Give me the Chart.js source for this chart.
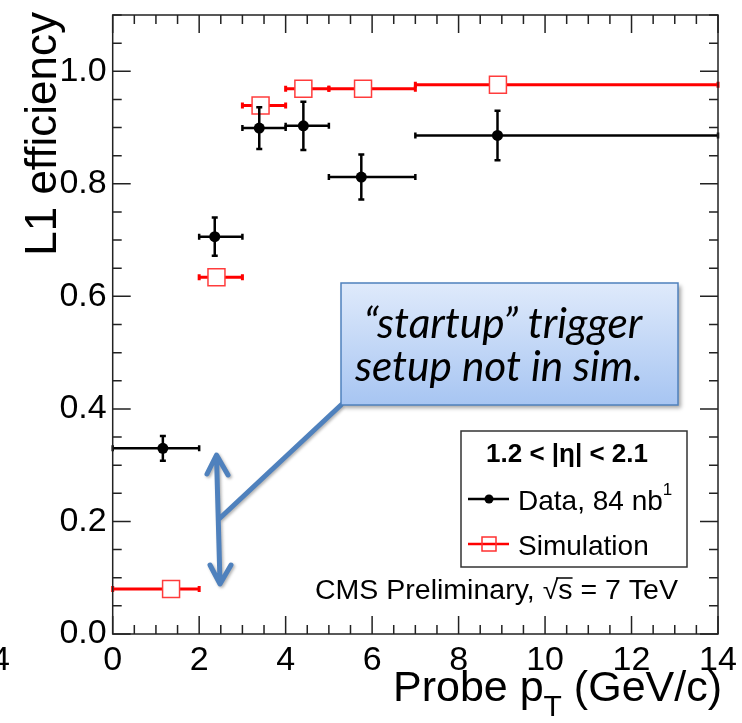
<!DOCTYPE html>
<html>
<head>
<meta charset="utf-8">
<script src="https://cdn.jsdelivr.net/npm/chart.js@4.4.1/dist/chart.umd.min.js"></script>
<style>
  html, body { margin: 0; padding: 0; background: #fff; }
  #wrap { width: 742px; height: 723px; }
</style>
</head>
<body>
<div id="wrap"><canvas id="effChart" width="742" height="723"></canvas></div>
<script>
// bins in probe pT (GeV/c)
var binLow  = [0, 2, 3, 4, 5, 7];
var binHigh = [2, 3, 4, 5, 7, 14];

// data points (black)
var dataX   = [1.16, 2.36, 3.39, 4.41, 5.75, 8.90];
var dataY   = [0.330, 0.706, 0.899, 0.903, 0.812, 0.886];
var dataErr = [0.022, 0.034, 0.037, 0.043, 0.040, 0.044];

// simulation points (red)
var simX = [1.35, 2.40, 3.42, 4.41, 5.79, 8.91];
var simY = [0.080, 0.634, 0.939, 0.969, 0.969, 0.976];

// axis ticks
var xTickVals   = [0, 2, 4, 6, 8, 10, 12, 14];
var xTickLabels = ["0", "2", "4", "6", "8", "10", "12", "14"];
var yTickVals   = [0, 0.2, 0.4, 0.6, 0.8, 1.0];
var yTickLabels = ["0.0", "0.2", "0.4", "0.6", "0.8", "1.0"];

Chart.defaults.font.family = "Liberation Sans";

function drawCapLine(ctx, x1, y1, x2, y2, cap, vertical) {
  ctx.beginPath();
  ctx.moveTo(x1, y1);
  ctx.lineTo(x2, y2);
  ctx.stroke();
  ctx.beginPath();
  if (vertical) {
    ctx.moveTo(x1 - cap, y1); ctx.lineTo(x1 + cap, y1);
    ctx.moveTo(x2 - cap, y2); ctx.lineTo(x2 + cap, y2);
  } else {
    ctx.moveTo(x1, y1 - cap); ctx.lineTo(x1, y1 + cap);
    ctx.moveTo(x2, y2 - cap); ctx.lineTo(x2, y2 + cap);
  }
  ctx.stroke();
}

// text squeezed/stretched to a given width
function fitText(ctx, txt, x, y, width) {
  var w = ctx.measureText(txt).width;
  ctx.save();
  ctx.translate(x, y);
  ctx.scale(width / w, 1);
  ctx.fillText(txt, 0, 0);
  ctx.restore();
  return width;
}

// error bars: red ones under everything, black ones after the red markers
var errorBars = {
  id: "errorBars",
  beforeDatasetsDraw: function(chart) {
    var ctx = chart.ctx, xs = chart.scales.x, ys = chart.scales.y;
    ctx.save();
    ctx.strokeStyle = "#ff0000";
    ctx.lineWidth = 3;
    for (var i = 0; i < simX.length; i++) {
      var py = ys.getPixelForValue(simY[i]);
      drawCapLine(ctx, xs.getPixelForValue(binLow[i]), py, xs.getPixelForValue(binHigh[i]), py, 3, false);
    }
    ctx.restore();
  },
  afterDatasetDraw: function(chart, args) {
    if (args.index !== 1) return;
    var ctx = chart.ctx, xs = chart.scales.x, ys = chart.scales.y;
    ctx.save();
    ctx.strokeStyle = "#000";
    ctx.lineWidth = 2.5;
    for (var i = 0; i < dataX.length; i++) {
      var px = xs.getPixelForValue(dataX[i]);
      var py = ys.getPixelForValue(dataY[i]);
      drawCapLine(ctx, xs.getPixelForValue(binLow[i]), py, xs.getPixelForValue(binHigh[i]), py, 3, false);
      drawCapLine(ctx, px, ys.getPixelForValue(dataY[i] + dataErr[i]), px, ys.getPixelForValue(dataY[i] - dataErr[i]), 3, true);
    }
    ctx.restore();
  }
};

// ROOT style frame with inward ticks on all four sides
var frame = {
  id: "frame",
  afterDatasetsDraw: function(chart) {
    var ctx = chart.ctx, a = chart.chartArea, xs = chart.scales.x, ys = chart.scales.y;
    ctx.save();
    ctx.strokeStyle = "#222";
    ctx.lineWidth = 1.5;
    ctx.strokeRect(a.left, a.top, a.right - a.left, a.bottom - a.top);
    ctx.beginPath();
    for (var v = 0; v <= 14.001; v += 0.5) {
      var len = (Math.abs(v / 2 - Math.round(v / 2)) < 0.01) ? 18 : 9;
      var px = xs.getPixelForValue(v);
      ctx.moveTo(px, a.bottom); ctx.lineTo(px, a.bottom - len);
      ctx.moveTo(px, a.top); ctx.lineTo(px, a.top + len);
    }
    for (var k = 0; k <= 22; k++) {
      var l2 = (k % 4 === 0) ? 18 : 9;
      var py = ys.getPixelForValue(k * 0.05);
      ctx.moveTo(a.left, py); ctx.lineTo(a.left + l2, py);
      ctx.moveTo(a.right, py); ctx.lineTo(a.right - l2, py);
    }
    ctx.stroke();
    ctx.restore();
  }
};

var annotations = {
  id: "annotations",
  afterDraw: function(chart) {
    var ctx = chart.ctx;
    ctx.save();
    ctx.fillStyle = "#000";

    // stray label from neighbouring pad
    ctx.font = "34px 'Liberation Sans'";
    ctx.textAlign = "right";
    ctx.textBaseline = "alphabetic";
    ctx.fillText("4", 10, 670);

    // y title
    ctx.save();
    ctx.translate(56, 12);
    ctx.rotate(-Math.PI / 2);
    ctx.font = "44px 'Liberation Sans'";
    ctx.textAlign = "right";
    ctx.fillText("L1 efficiency", 0, 0);
    ctx.restore();

    // x title with subscript
    ctx.textAlign = "left";
    ctx.font = "43px 'Liberation Sans'";
    var t1 = "Probe p", t3 = " (GeV/c)";
    var w1 = ctx.measureText(t1).width, w3 = ctx.measureText(t3).width;
    ctx.font = "30px 'Liberation Sans'";
    var w2 = ctx.measureText("T").width;
    var x0 = 722 - w1 - w2 - w3;
    ctx.font = "43px 'Liberation Sans'";
    ctx.fillText(t1, x0, 701);
    ctx.fillText(t3, x0 + w1 + w2, 701);
    ctx.font = "30px 'Liberation Sans'";
    ctx.fillText("T", x0 + w1, 716);

    // legend box
    ctx.strokeStyle = "#333";
    ctx.lineWidth = 1.5;
    ctx.strokeRect(461, 431, 226, 136);
    ctx.font = "bold 26px 'Liberation Sans'";
    ctx.textAlign = "center";
    ctx.fillText("1.2 < |\u03b7| < 2.1", 567, 462);
    ctx.textAlign = "left";
    ctx.font = "28px 'Liberation Sans'";
    ctx.fillText("Data, 84 nb", 518, 510);
    var wd = ctx.measureText("Data, 84 nb").width;
    ctx.font = "17px 'Liberation Sans'";
    ctx.fillText("1", 518 + wd, 495);
    ctx.font = "28px 'Liberation Sans'";
    ctx.fillText("Simulation", 518, 555);
    ctx.lineWidth = 2.5;
    ctx.strokeStyle = "#000";
    ctx.beginPath(); ctx.moveTo(468, 499); ctx.lineTo(509, 499); ctx.stroke();
    ctx.beginPath(); ctx.arc(489, 499, 4.5, 0, Math.PI * 2); ctx.fill();
    ctx.strokeStyle = "#ff0000";
    ctx.beginPath(); ctx.moveTo(468, 544); ctx.lineTo(509, 544); ctx.stroke();
    ctx.lineWidth = 1.5;
    ctx.strokeStyle = "#ff3030";
    ctx.strokeRect(482, 537, 14, 14);

    // CMS label with sqrt(s), stretched to the width seen in the plot
    ctx.fillStyle = "#000";
    ctx.font = "27px 'Liberation Sans'";
    var p1 = "CMS Preliminary, ", p2 = "\u221a", p3 = "s", p4 = " = 7 TeV";
    var total = ctx.measureText(p1 + p2 + p3 + p4).width;
    var sx = 363 / total;
    var cx = 315, cy = 599;
    ctx.save();
    ctx.translate(cx, cy);
    ctx.scale(sx, 1);
    var x = 0;
    ctx.fillText(p1, x, 0); x += ctx.measureText(p1).width;
    ctx.fillText(p2, x, 0); x += ctx.measureText(p2).width;
    var ws = ctx.measureText(p3).width;
    ctx.fillText(p3, x, 0);
    ctx.strokeStyle = "#000";
    ctx.lineWidth = 1.5;
    ctx.beginPath(); ctx.moveTo(x - 2, -21); ctx.lineTo(x + ws, -21); ctx.stroke();
    x += ws;
    ctx.fillText(p4, x, 0);
    ctx.restore();

    // connector and double arrow
    ctx.save();
    ctx.shadowColor = "rgba(0,0,0,0.3)";
    ctx.shadowBlur = 3;
    ctx.shadowOffsetX = 1.5;
    ctx.shadowOffsetY = 1.5;
    ctx.strokeStyle = "#4f81bd";
    ctx.lineWidth = 5;
    ctx.lineCap = "round";
    ctx.lineJoin = "round";
    ctx.beginPath();
    ctx.moveTo(341, 405); ctx.lineTo(219, 519);
    ctx.moveTo(216.5, 456); ctx.lineTo(220, 583);
    ctx.moveTo(207, 474); ctx.lineTo(216.5, 455); ctx.lineTo(228, 475);
    ctx.moveTo(210, 565); ctx.lineTo(220, 584); ctx.lineTo(231, 565);
    ctx.stroke();
    ctx.restore();

    // callout box
    ctx.save();
    ctx.shadowColor = "rgba(0,0,0,0.35)";
    ctx.shadowBlur = 4;
    ctx.shadowOffsetX = 3;
    ctx.shadowOffsetY = 3;
    var g = ctx.createLinearGradient(0, 283, 0, 405);
    g.addColorStop(0, "#dfeafb");
    g.addColorStop(1, "#a7c5f2");
    ctx.fillStyle = g;
    ctx.fillRect(341, 283, 337, 122);
    ctx.restore();
    ctx.strokeStyle = "#4f81bd";
    ctx.lineWidth = 1.5;
    ctx.strokeRect(341, 283, 337, 122);
    ctx.fillStyle = "#000";
    ctx.font = "italic 38px Lato";
    var line1 = "\u201cstartup\u201d trigger", line2 = "setup not in sim.";
    var fs = 38 * 279 / ctx.measureText(line1).width;
    ctx.font = "italic " + fs.toFixed(1) + "px Lato";
    ctx.textAlign = "center";
    ctx.fillText(line1, 503, 338);
    ctx.fillText(line2, 499, 381);

    ctx.restore();
  }
};

var ctx = document.getElementById("effChart").getContext("2d");

var effChart = new Chart(ctx, {
  type: "scatter",
  data: {
    datasets: [{
      label: "Data, 84 nb-1",
      data: dataX.map(function(x, i) { return { x: x, y: dataY[i] }; }),
      pointStyle: "circle",
      pointRadius: 5.5,
      backgroundColor: "#000",
      borderColor: "#000",
      borderWidth: 0
    }, {
      label: "Simulation",
      data: simX.map(function(x, i) { return { x: x, y: simY[i] }; }),
      pointStyle: "rect",
      pointRadius: 12,
      backgroundColor: "#fff",
      borderColor: "#ff3c3c",
      borderWidth: 1.5
    }]
  },
  options: {
    responsive: false,
    animation: false,
    events: [],
    layout: { padding: { left: 0, top: 15, right: 24, bottom: 0 } },
    plugins: { legend: { display: false }, tooltip: { enabled: false } },
    scales: {
      x: {
        type: "linear",
        min: 0,
        max: 14,
        grid: { display: false, drawTicks: false },
        border: { display: false },
        afterBuildTicks: function(axis) {
          axis.ticks = xTickVals.map(function(v) { return { value: v }; });
        },
        afterFit: function(scale) {
          scale.height = 723 - 634;
          scale.paddingLeft = 0;
          scale.paddingRight = 0;
        },
        ticks: {
          color: "#000",
          font: { size: 34 },
          padding: 6,
          maxRotation: 0,
          autoSkip: false,
          callback: function(v, i) { return xTickLabels[i]; }
        }
      },
      y: {
        min: 0,
        max: 1.1,
        grid: { display: false, drawTicks: false },
        border: { display: false },
        afterBuildTicks: function(axis) {
          axis.ticks = yTickVals.map(function(v) { return { value: v }; });
        },
        afterFit: function(scale) {
          scale.width = 112.7;
          scale.paddingTop = 0;
          scale.paddingBottom = 0;
        },
        ticks: {
          color: "#000",
          font: { size: 34 },
          padding: 6,
          autoSkip: false,
          callback: function(v, i) { return yTickLabels[i]; }
        }
      }
    }
  },
  plugins: [errorBars, frame, annotations]
});
</script>
</body>
</html>
